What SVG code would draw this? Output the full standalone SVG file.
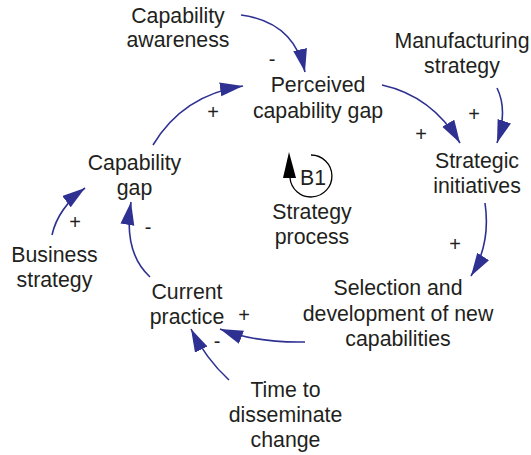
<svg xmlns="http://www.w3.org/2000/svg" width="531" height="455" viewBox="0 0 531 455">
<defs>
<marker id="ah" markerUnits="userSpaceOnUse" markerWidth="26" markerHeight="16" refX="23" refY="7" orient="auto">
<path d="M0,0 L23,7 L0,14 Z" fill="#2E3192"/>
</marker>
<style>
text{font-family:"Liberation Sans",Arial,sans-serif;font-size:21.3px;fill:#231F20;text-anchor:middle}
.s{font-size:20px}
.c{fill:none;stroke:#2E3192;stroke-width:1.6;marker-end:url(#ah)}
</style>
</defs>
<rect width="531" height="455" fill="#fff"/>
<g id="connectors">
<path class="c" d="M241,15 Q294,22 305,72"/>
<path class="c" d="M382,85 Q432,96 460,143"/>
<path class="c" d="M497,88 Q508,110 497,143"/>
<path class="c" d="M485,203 Q491,244 471,276"/>
<path class="c" d="M305,342 Q256,343 220,329"/>
<path class="c" d="M229,380 Q206,359 191,329"/>
<path class="c" d="M150,277 Q123,252 131,202"/>
<path class="c" d="M52,235 Q58,208 85,188"/>
<path class="c" d="M153,145 Q183,95 243,86"/>
<text class="s" x="272" y="66">-</text>
<text class="s" x="421" y="141">+</text>
<text class="s" x="474" y="121">+</text>
<text class="s" x="455" y="251">+</text>
<text class="s" x="244" y="322">+</text>
<text class="s" x="217" y="348">-</text>
<text class="s" x="148" y="234">-</text>
<text class="s" x="75" y="229">+</text>
<text class="s" x="213" y="119">+</text>
</g>
<g id="capability-awareness"><text x="178" y="23">Capability</text><text x="178" y="47">awareness</text></g>
<g id="perceived-capability-gap"><text x="318" y="92">Perceived</text><text x="318" y="118">capability gap</text></g>
<g id="manufacturing-strategy"><text x="462" y="48">Manufacturing</text><text x="462" y="73">strategy</text></g>
<g id="strategic-initiatives"><text x="477" y="168">Strategic</text><text x="477" y="193">initiatives</text></g>
<g id="selection"><text x="398" y="295">Selection and</text><text x="398" y="320.5">development of new</text><text x="398" y="346">capabilities</text></g>
<g id="current-practice"><text x="187" y="298.5">Current</text><text x="187" y="323.5">practice</text></g>
<g id="time-to-disseminate"><text x="285.5" y="397">Time to</text><text x="285.5" y="422">disseminate</text><text x="285.5" y="447">change</text></g>
<g id="capability-gap"><text x="134.5" y="170">Capability</text><text x="134.5" y="195">gap</text></g>
<g id="business-strategy"><text x="54.5" y="262">Business</text><text x="54.5" y="287">strategy</text></g>
<g id="loop-b1">
<path d="M311,155 A21,21 0 1 1 290,178" fill="none" stroke="#000" stroke-width="1.3"/>
<path d="M289,152 L296,178 L283,178 Z" fill="#000"/>
<text x="313" y="185">B1</text>
<text x="312" y="219">Strategy</text>
<text x="312" y="244">process</text>
</g>
</svg>
